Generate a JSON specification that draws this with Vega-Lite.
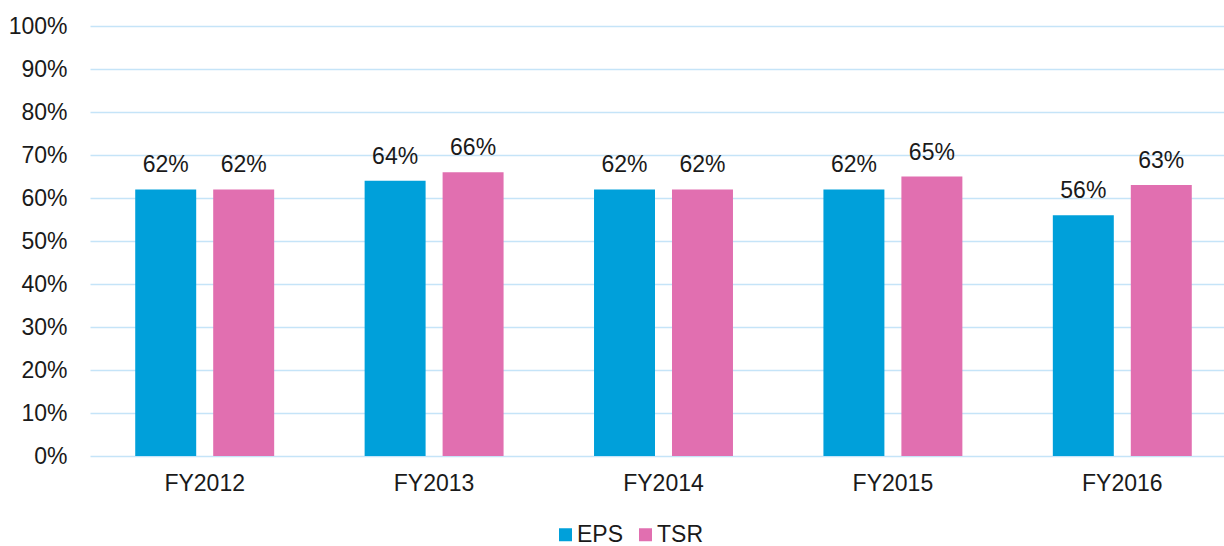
{
  "$schema": "https://vega.github.io/schema/vega-lite/v6.json",
  "width": 1134,
  "height": 430,
  "autosize": {"type": "none"},
  "padding": {"left": 90, "top": 26, "right": 0, "bottom": 90},
  "background": "white",
  "config": {
    "view": {"stroke": null},
    "font": "Liberation Sans",
    "axis": {"labelFont": "Liberation Sans", "labelColor": "#1a1a1a", "labelFontSize": 23}
  },
  "data": {
    "values": [
      {"year": "FY2012", "metric": "EPS", "value": 0.62},
      {"year": "FY2012", "metric": "TSR", "value": 0.62},
      {"year": "FY2013", "metric": "EPS", "value": 0.64},
      {"year": "FY2013", "metric": "TSR", "value": 0.66},
      {"year": "FY2014", "metric": "EPS", "value": 0.62},
      {"year": "FY2014", "metric": "TSR", "value": 0.62},
      {"year": "FY2015", "metric": "EPS", "value": 0.62},
      {"year": "FY2015", "metric": "TSR", "value": 0.65},
      {"year": "FY2016", "metric": "EPS", "value": 0.56},
      {"year": "FY2016", "metric": "TSR", "value": 0.63}
    ]
  },
  "encoding": {
    "x": {
      "field": "year", "type": "nominal",
      "scale": {"paddingInner": 0, "paddingOuter": 0, "range": [0, 1147]},
      "axis": {"title": null, "labelAngle": 0, "ticks": false, "domain": false, "labelPadding": 16, "labelFontSize": 23, "labelOverlap": false}
    },
    "xOffset": {
      "field": "metric", "type": "nominal",
      "scale": {"paddingInner": 0.218, "paddingOuter": 0.58}
    },
    "y": {
      "field": "value", "type": "quantitative",
      "scale": {"domain": [0, 1]},
      "axis": {
        "title": null, "format": ".0%", "values": [0,0.1,0.2,0.3,0.4,0.5,0.6,0.7,0.8,0.9,1],
        "ticks": false, "domain": false, "labelPadding": 23, "labelOverlap": false, "labelFlush": false,
        "labelFontSize": 23,
        "gridColor": "#C5E4F8", "gridWidth": 1.6, "gridOpacity": 1
      }
    }
  },
  "layer": [
    {
      "mark": {"type": "bar"},
      "encoding": {
        "color": {
          "field": "metric", "type": "nominal",
          "scale": {"domain": ["EPS", "TSR"], "range": ["#00A0DA", "#E16FB0"]},
          "legend": {
            "title": null, "orient": "none", "direction": "horizontal",
            "legendX": 464, "legendY": 497,
            "symbolType": "square", "symbolSize": 169, "symbolStrokeWidth": 0,
            "labelFontSize": 23, "labelFont": "Liberation Sans", "labelColor": "#1a1a1a",
            "labelOffset": 0, "columnPadding": 10
          }
        }
      }
    },
    {
      "mark": {"type": "text", "baseline": "alphabetic", "dy": -17, "fontSize": 23, "color": "#1a1a1a", "font": "Liberation Sans"},
      "encoding": {
        "text": {"field": "value", "type": "quantitative", "format": ".0%"}
      }
    }
  ]
}
